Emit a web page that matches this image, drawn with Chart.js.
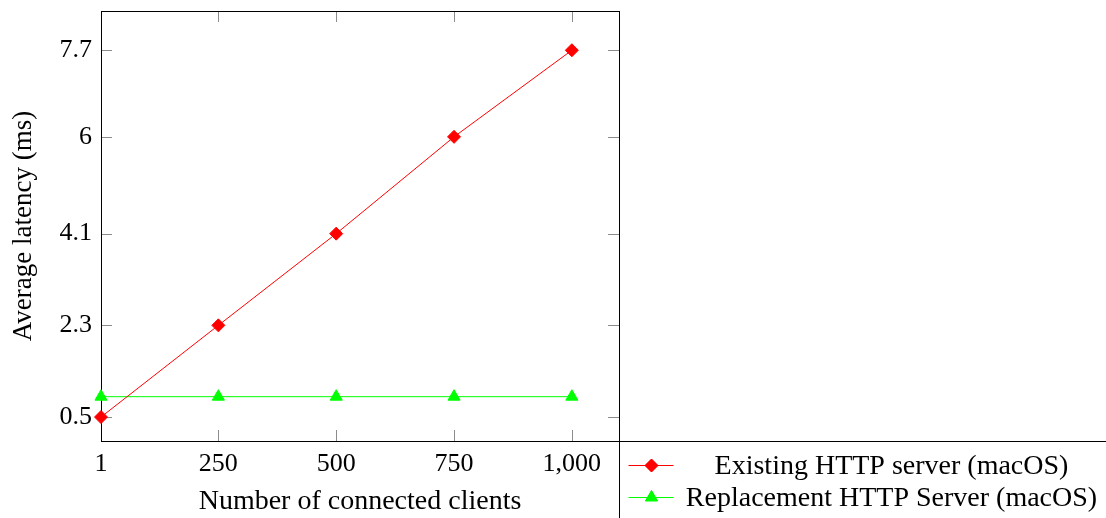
<!DOCTYPE html>
<html>
<head>
<meta charset="utf-8">
<script src="https://cdn.jsdelivr.net/npm/chart.js@4.4.1/dist/chart.umd.min.js"></script>
<style>
html,body{margin:0;padding:0;background:#fff;}
canvas{display:block;}
</style>
</head>
<body>
<canvas id="c" width="1106" height="518"></canvas>
<script>
const clients = [1, 250, 500, 750, 1000];
const existingLatency = [0.5, 2.3, 4.1, 6, 7.7];
const replacementLatency = [0.9, 0.9, 0.9, 0.9, 0.9];
const xTickValues = [1, 250, 500, 750, 1000];
const yTickValues = [0.5, 2.3, 4.1, 6, 7.7];
const seriesLabels = ['Existing HTTP server (macOS)', 'Replacement HTTP Server (macOS)'];
const xTitle = 'Number of connected clients';
const yTitle = 'Average latency (ms)';

const FONT = "'Liberation Serif', 'Times New Roman', serif";

const framePlugin = {
  id: 'frame',
  beforeDatasetsDraw(chart) {
    const {ctx, chartArea: a, scales} = chart;
    ctx.save();
    ctx.strokeStyle = 'rgba(0,0,0,0.45)';
    ctx.lineWidth = 1;
    const L = 11;
    scales.x.ticks.forEach(t => {
      const px = Math.round(scales.x.getPixelForValue(t.value)) + 0.5;
      ctx.beginPath();
      ctx.moveTo(px, a.bottom); ctx.lineTo(px, a.bottom - L);
      ctx.moveTo(px, a.top); ctx.lineTo(px, a.top + L);
      ctx.stroke();
    });
    scales.y.ticks.forEach(t => {
      const py = Math.round(scales.y.getPixelForValue(t.value)) + 0.5;
      ctx.beginPath();
      ctx.moveTo(a.left, py); ctx.lineTo(a.left + L, py);
      ctx.moveTo(a.right, py); ctx.lineTo(a.right - L, py);
      ctx.stroke();
    });
    ctx.strokeStyle = '#000';
    const l = Math.round(a.left) + 0.5, r = Math.round(a.right) + 0.5;
    const tp = Math.round(a.top) + 0.5, b = Math.round(a.bottom) + 0.5;
    ctx.strokeRect(l, tp, r - l, b - tp);
    ctx.restore();
  },
  afterDraw(chart) {
    const {ctx, chartArea: a} = chart;
    const W = chart.width, H = chart.height;
    ctx.save();
    const r = Math.round(a.right) + 0.5, b = Math.round(a.bottom) + 0.5;
    ctx.strokeStyle = '#000';
    ctx.lineWidth = 1;
    ctx.beginPath();
    ctx.moveTo(r, b); ctx.lineTo(W, b);
    ctx.moveTo(r, b); ctx.lineTo(r, H);
    ctx.stroke();
    ctx.font = '28px ' + FONT;
    ctx.textAlign = 'center';
    ctx.textBaseline = 'middle';
    const rows = [b + 24, b + 56];
    const textCenter = r + 272;
    chart.data.datasets.forEach((ds, i) => {
      const y = rows[i];
      ctx.strokeStyle = ds.borderColor;
      ctx.lineWidth = 1;
      ctx.beginPath();
      ctx.moveTo(r + 9, y); ctx.lineTo(r + 54, y);
      ctx.stroke();
      Chart.helpers.drawPoint(ctx, {
        pointStyle: ds.pointStyle, radius: ds.pointRadius, borderWidth: 1,
        rotation: 0
      }, r + 32, y);
      ctx.fillStyle = ds.pointBackgroundColor;
      ctx.fill();
      ctx.fillStyle = '#000';
      ctx.fillText(ds.label, textCenter, y + 1);
    });
    ctx.restore();
  }
};

const ctx = document.getElementById('c').getContext('2d');
new Chart(ctx, {
  type: 'scatter',
  data: {
    datasets: [
      {
        label: seriesLabels[0],
        data: clients.map((x, i) => ({x, y: existingLatency[i]})),
        showLine: true,
        borderColor: '#ff0000',
        backgroundColor: '#ff0000',
        pointBackgroundColor: '#ff0000',
        pointBorderColor: '#ff0000',
        borderWidth: 1,
        pointStyle: 'rectRot',
        pointRadius: 6.5,
        pointBorderWidth: 1,
        clip: false
      },
      {
        label: seriesLabels[1],
        data: clients.map((x, i) => ({x, y: replacementLatency[i]})),
        showLine: true,
        borderColor: '#00ff00',
        backgroundColor: '#00ff00',
        pointBackgroundColor: '#00ff00',
        pointBorderColor: '#00ff00',
        borderWidth: 1,
        pointStyle: 'triangle',
        pointRadius: 7,
        pointBorderWidth: 1,
        clip: false
      }
    ]
  },
  options: {
    responsive: false,
    devicePixelRatio: 1,
    animation: false,
    events: [],
    layout: {padding: {left: 0, top: 11, right: 487, bottom: 0}},
    plugins: {legend: {display: false}, tooltip: {enabled: false}},
    scales: {
      x: {
        type: 'linear',
        min: 1, max: 1100,
        afterFit(s) { s.height = 77; s.paddingLeft = 0; s.paddingRight = 0; },
        afterBuildTicks(s) { s.ticks = xTickValues.map(v => ({value: v})); },
        grid: {display: false, drawTicks: false},
        border: {display: false},
        ticks: {
          padding: 8,
          color: '#000',
          font: {family: FONT, size: 26},
          maxRotation: 0,
          autoSkip: false,
          callback: v => v.toLocaleString('en-US')
        },
        title: {
          display: true, text: xTitle, color: '#000',
          font: {family: FONT, size: 28},
          padding: {top: 0, bottom: 0}
        }
      },
      y: {
        type: 'linear',
        min: 0.03, max: 8.47,
        afterFit(s) { s.width = 101; s.paddingTop = 0; s.paddingBottom = 0; },
        afterBuildTicks(s) { s.ticks = yTickValues.map(v => ({value: v})); },
        grid: {display: false, drawTicks: false},
        border: {display: false},
        ticks: {
          padding: 9,
          color: '#000',
          font: {family: FONT, size: 26},
          autoSkip: false,
          callback: v => String(v)
        },
        title: {
          display: true, text: yTitle, color: '#000',
          font: {family: FONT, size: 27},
          padding: {top: 8, bottom: 0}
        }
      }
    }
  },
  plugins: [framePlugin]
});
</script>
</body>
</html>
